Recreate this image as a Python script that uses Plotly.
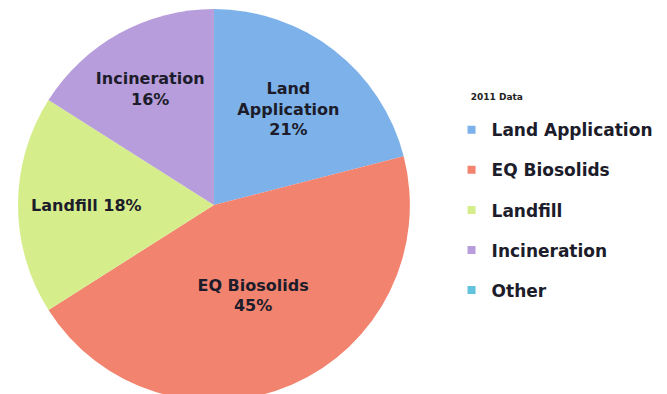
import plotly.graph_objects as go

categories = ["Land Application", "EQ Biosolids", "Landfill", "Incineration", "Other"]
values = [21, 45, 18, 16, 0]
slice_text = ["Land<br>Application<br>21%", "EQ Biosolids<br>45%", "Landfill 18%", "Incineration<br>16%", ""]
colors = ["#7db1ea", "#f2836f", "#d6ed8c", "#b79ddb", "#62c3dc"]
legend_title = "2011 Data"

FONT = "DejaVu Sans"

fig = go.Figure()
fig.add_trace(go.Pie(
    labels=categories, values=values, text=["<b>" + t + "</b>" if t else "" for t in slice_text],
    textinfo="text",
    sort=False, direction="clockwise", rotation=0,
    marker=dict(colors=colors, line=dict(width=0)),
    textposition="inside", insidetextorientation="horizontal",
    textfont=dict(family=FONT, size=16, color="#1c1c2a"),
    domain=dict(x=[0.015, 0.6025], y=[0, 1]),
    showlegend=False, hoverinfo="label+percent",
))
for name, c in zip(categories, colors):
    fig.add_trace(go.Scatter(
        x=[None], y=[None], mode="markers", name="<b>" + name + "</b>", legendgroup=name,
        marker=dict(symbol="square", size=8, color=c),
    ))

fig.update_layout(
    width=667, height=394,
    margin=dict(l=0, r=0, t=0, b=0),
    paper_bgcolor="white", plot_bgcolor="white",
    xaxis=dict(visible=False), yaxis=dict(visible=False),
    uniformtext=dict(minsize=10, mode="show"),
    legend=dict(
        title=dict(text="\u00a0" * 6 + "<b>" + legend_title + "</b><br> ",
                   font=dict(family=FONT, size=9, color="#222")),
        x=0.665, y=0.795, xanchor="left", yanchor="top",
        font=dict(family=FONT, size=17, color="#1c1c2a"),
        tracegroupgap=15, itemwidth=30, bgcolor="rgba(0,0,0,0)",
    ),
)
fig.write_html("out.html")
